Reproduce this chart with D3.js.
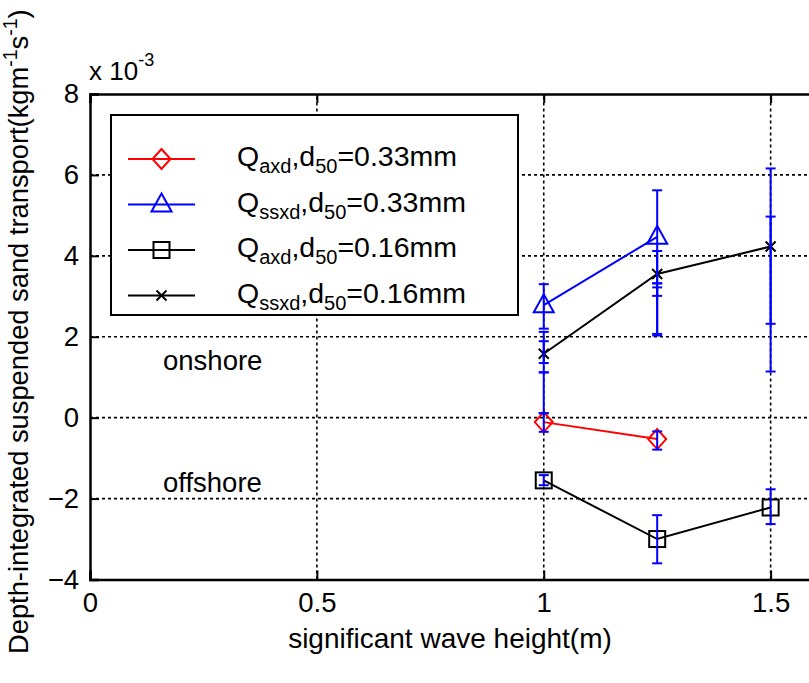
<!DOCTYPE html>
<html>
<head>
<meta charset="utf-8">
<script src="https://cdnjs.cloudflare.com/ajax/libs/d3/7.8.5/d3.min.js"></script>
<style>
  body { margin: 0; background: #fff; }
  svg { display: block; font-family: Arial, "Liberation Sans", sans-serif; }
</style>
</head>
<body>
<div id="viz"></div>
<script>
// values in units of 1e-3 kg m^-1 s^-1
var xTicks = [0, 0.5, 1, 1.5];
var yTicks = [-4, -2, 0, 2, 4, 6, 8];

var qaxd033X = [1, 1.25];
var qaxd033Y = [-0.11, -0.53];
var qssxd033X = [1, 1.25];
var qssxd033Y = [2.78, 4.47];
var qaxd016X = [1, 1.25, 1.5];
var qaxd016Y = [-1.55, -3.0, -2.22];
var qssxd016X = [1, 1.25, 1.5];
var qssxd016Y = [1.58, 3.55, 4.23];

// error bars (all drawn in blue)
var errX  = [1, 1, 1, 1, 1, 1.25, 1.25, 1.25, 1.25, 1.25, 1.5, 1.5, 1, 1.25, 1.5];
var errLo = [2.2, 1.12, 1.35, 0.11, -0.35, 3.32, 3.01, 2.07, 2.03, -0.79, 2.32, 1.14, -1.67, -3.6, -2.63];
var errHi = [3.3, 2.12, 1.89, 1.12, 0.11, 5.62, 4.12, 3.22, 3.32, -0.34, 6.16, 4.97, -1.42, -2.41, -1.77];

var width = 809, height = 683;
var margin = { top: 94, left: 90, bottom: 579.5 };

var svg = d3.select('#viz').append('svg')
    .attr('width', width)
    .attr('height', height);

var xScale = d3.scaleLinear().domain([0, 1.6]).range([margin.left, 816]);
var yScale = d3.scaleLinear().domain([-4, 8]).range([margin.bottom, margin.top]);

// grid
svg.append('g').selectAll('line').data(xTicks.slice(1))
  .enter().append('line')
    .attr('x1', function(d) { return xScale(d); })
    .attr('x2', function(d) { return xScale(d); })
    .attr('y1', yScale(-4)).attr('y2', yScale(8))
    .attr('stroke', '#000').attr('stroke-width', 1.6)
    .attr('stroke-dasharray', '3,3');
svg.append('g').selectAll('line').data(yTicks.slice(1, -1))
  .enter().append('line')
    .attr('x1', xScale(0)).attr('x2', xScale(1.6))
    .attr('y1', function(d) { return yScale(d); })
    .attr('y2', function(d) { return yScale(d); })
    .attr('stroke', '#000').attr('stroke-width', 1.6)
    .attr('stroke-dasharray', '3,3');

// axes (ticks point inward)
var xAxis = d3.axisBottom(xScale).tickValues(xTicks).tickSize(-9).tickPadding(13)
    .tickFormat(d3.format('~g'));
var xTop = d3.axisTop(xScale).tickValues(xTicks).tickSize(-9).tickFormat('');
var yAxis = d3.axisLeft(yScale).tickValues(yTicks).tickSize(-9).tickPadding(11);

function styleAxis(g) {
  g.select('.domain').attr('stroke', '#000').attr('stroke-width', 2.5);
  g.selectAll('.tick line').attr('stroke', '#000').attr('stroke-width', 2);
  g.selectAll('.tick text').attr('fill', '#000')
    .style('font-size', '27.5px').style('font-family', 'Arial, "Liberation Sans", sans-serif');
}

svg.append('g').attr('transform', 'translate(0,' + margin.bottom + ')').call(xAxis).call(styleAxis);
svg.append('g').attr('transform', 'translate(0,' + margin.top + ')').call(xTop).call(styleAxis);
svg.append('g').attr('transform', 'translate(' + margin.left + ',0)').call(yAxis).call(styleAxis);

// legend box (covers grid)
var legend = svg.append('g');
legend.append('rect')
    .attr('x', 111).attr('y', 115).attr('width', 407).attr('height', 200)
    .attr('fill', '#fff').attr('stroke', '#000').attr('stroke-width', 2);

// series
var line = d3.line()
    .x(function(d) { return xScale(d[0]); })
    .y(function(d) { return yScale(d[1]); });

function pairs(xs, ys) { return xs.map(function(x, i) { return [x, ys[i]]; }); }

var series = [
  { name: 'axd', d: '0.33mm', pts: pairs(qaxd033X, qaxd033Y), color: '#ff0000', marker: 'diamond' },
  { name: 'ssxd', d: '0.33mm', pts: pairs(qssxd033X, qssxd033Y), color: '#0000ff', marker: 'triangle' },
  { name: 'axd', d: '0.16mm', pts: pairs(qaxd016X, qaxd016Y), color: '#000000', marker: 'square' },
  { name: 'ssxd', d: '0.16mm', pts: pairs(qssxd016X, qssxd016Y), color: '#000000', marker: 'cross' }
];

function drawMarker(g, type, cx, cy, color) {
  if (type === 'diamond') {
    g.append('path').attr('d', 'M' + cx + ',' + (cy - 10) + 'L' + (cx + 9) + ',' + cy +
      'L' + cx + ',' + (cy + 10) + 'L' + (cx - 9) + ',' + cy + 'Z')
      .attr('fill', 'none').attr('stroke', color).attr('stroke-width', 2);
  } else if (type === 'triangle') {
    g.append('path').attr('d', 'M' + cx + ',' + (cy - 11) + 'L' + (cx + 10) + ',' + (cy + 7) +
      'L' + (cx - 10) + ',' + (cy + 7) + 'Z')
      .attr('fill', 'none').attr('stroke', color).attr('stroke-width', 2);
  } else if (type === 'square') {
    g.append('rect').attr('x', cx - 8).attr('y', cy - 8).attr('width', 16).attr('height', 16)
      .attr('fill', 'none').attr('stroke', color).attr('stroke-width', 2);
  } else {
    g.append('path').attr('d', 'M' + (cx - 5) + ',' + (cy - 5) + 'L' + (cx + 5) + ',' + (cy + 5) +
      'M' + (cx + 5) + ',' + (cy - 5) + 'L' + (cx - 5) + ',' + (cy + 5))
      .attr('fill', 'none').attr('stroke', color).attr('stroke-width', 2);
  }
}

var plot = svg.append('g');
series.forEach(function(s) {
  plot.append('path').datum(s.pts).attr('d', line)
    .attr('fill', 'none').attr('stroke', s.color).attr('stroke-width', 2);
  s.pts.forEach(function(p) {
    drawMarker(plot, s.marker, xScale(p[0]), yScale(p[1]), s.color);
  });
});

// error bars
var bars = svg.append('g').attr('stroke', '#0000ff').attr('stroke-width', 2);
errX.forEach(function(x, i) {
  var cx = xScale(x);
  bars.append('line').attr('x1', cx).attr('x2', cx)
    .attr('y1', yScale(errLo[i])).attr('y2', yScale(errHi[i]));
  [errLo[i], errHi[i]].forEach(function(v) {
    bars.append('line').attr('x1', cx - 5).attr('x2', cx + 5)
      .attr('y1', yScale(v)).attr('y2', yScale(v));
  });
});

// legend entries
series.forEach(function(s, i) {
  var cy = 159 + i * 45.5;
  legend.append('line').attr('x1', 128).attr('x2', 195).attr('y1', cy).attr('y2', cy)
    .attr('stroke', s.color).attr('stroke-width', 2);
  drawMarker(legend, s.marker, 161.5, cy, s.color);
  var t = legend.append('text').attr('x', 237).attr('y', cy + 7)
    .style('font-size', '28.5px').attr('fill', '#000');
  t.append('tspan').text('Q');
  t.append('tspan').attr('dy', 7).style('font-size', '20px').text(s.name);
  t.append('tspan').attr('dy', -7).text(',d');
  t.append('tspan').attr('dy', 7).style('font-size', '20px').text('50');
  t.append('tspan').attr('dy', -7).text('=' + s.d);
});

// annotations
svg.append('text').attr('x', 163).attr('y', 370).style('font-size', '27.5px').text('onshore');
svg.append('text').attr('x', 163).attr('y', 492).style('font-size', '27.5px').text('offshore');

var mult = svg.append('text').attr('x', 89).attr('y', 80).style('font-size', '26px');
mult.append('tspan').text('x 10');
mult.append('tspan').attr('dy', -14).style('font-size', '18px').text('-3');

// axis titles
svg.append('text').attr('x', 450).attr('y', 648).attr('text-anchor', 'middle')
    .style('font-size', '28px').text('significant wave height(m)');

var yt = svg.append('text').attr('transform', 'translate(28,654) rotate(-90)')
    .style('font-size', '27.3px');
yt.append('tspan').text('Depth-integrated suspended sand transport(kgm');
yt.append('tspan').attr('dy', -11).style('font-size', '19.5px').text('-1');
yt.append('tspan').attr('dy', 11).text('s');
yt.append('tspan').attr('dy', -11).style('font-size', '19.5px').text('-1');
yt.append('tspan').attr('dy', 11).text(')');
</script>
</body>
</html>
